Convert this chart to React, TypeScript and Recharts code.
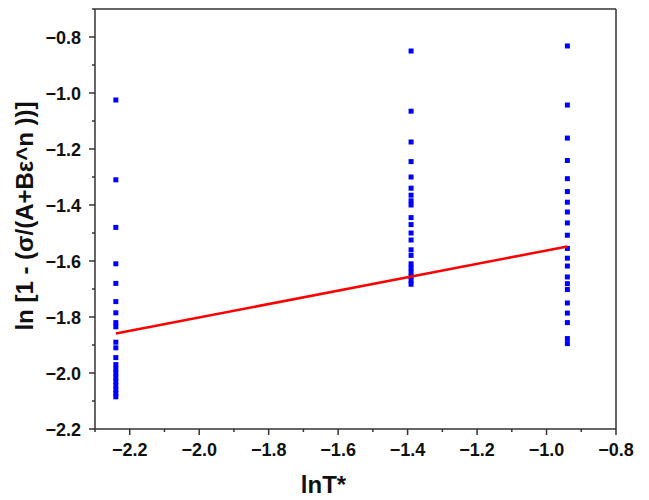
import React from 'react';
import { ScatterChart, Scatter, XAxis, YAxis, ReferenceLine } from 'recharts';

// x positions (lnT*) of the three measured columns
const columnX = [-2.24, -1.39, -0.94];

// y values for each column
const col1Y = [-1.025, -1.31, -1.48, -1.61, -1.68, -1.745, -1.785, -1.82, -1.835, -1.89, -1.91, -1.945, -1.97, -1.985, -2.0, -2.015, -2.03, -2.045, -2.06, -2.072, -2.085];
const col2Y = [-0.85, -1.065, -1.175, -1.245, -1.3, -1.34, -1.365, -1.385, -1.4, -1.445, -1.47, -1.5, -1.525, -1.56, -1.58, -1.61, -1.625, -1.64, -1.655, -1.67, -1.683];
const col3Y = [-0.832, -1.043, -1.161, -1.241, -1.306, -1.352, -1.39, -1.425, -1.464, -1.508, -1.555, -1.59, -1.618, -1.657, -1.681, -1.702, -1.75, -1.786, -1.82, -1.877, -1.895];

// linear fit endpoints
const fitX = [-2.24, -0.94];
const fitY = [-1.859, -1.548];

// axis ticks
const xTicks = [-2.3, -2.2, -2.1, -2.0, -1.9, -1.8, -1.7, -1.6, -1.5, -1.4, -1.3, -1.2, -1.1, -1.0, -0.9, -0.8];
const yTicks = [-2.2, -2.1, -2.0, -1.9, -1.8, -1.7, -1.6, -1.5, -1.4, -1.3, -1.2, -1.1, -1.0, -0.9, -0.8, -0.7];

const xTitle = 'lnT*';
const yTitle = 'ln [1 - (σ/(A+Bε^n ))]';

const points = [col1Y, col2Y, col3Y].flatMap((col, i) => col.map((y) => ({ x: columnX[i], y })));
const fitData = fitX.map((x, i) => ({ x, y: fitY[i] }));

const FONT = '"Liberation Sans", Arial, sans-serif';
const AXIS = '#333';

const isMajor = (v: number) => Math.abs(Math.round(v * 10)) % 2 === 0;
const fmt = (v: number) => v.toFixed(1).replace('-', '\u2212');

const XTick = (props: any) => {
  const { x, y, payload } = props;
  const v = payload.value as number;
  const major = isMajor(v);
  return (
    <g>
      <line x1={x} y1={y} x2={x} y2={y + (major ? 6 : 3)} stroke={AXIS} strokeWidth={1.5} />
      {major && (
        <text x={x} y={y + 27} textAnchor="middle" fontFamily={FONT} fontWeight="bold" fontSize={18} fill="#111">
          {fmt(v)}
        </text>
      )}
    </g>
  );
};

const YTick = (props: any) => {
  const { x, y, payload } = props;
  const v = payload.value as number;
  const major = isMajor(v);
  return (
    <g>
      <line x1={x} y1={y} x2={x - (major ? 6 : 3)} y2={y} stroke={AXIS} strokeWidth={1.5} />
      {major && (
        <text x={x - 14} y={y + 6.5} textAnchor="end" fontFamily={FONT} fontWeight="bold" fontSize={18} fill="#111">
          {fmt(v)}
        </text>
      )}
    </g>
  );
};

const XTitle = (props: any) => {
  const vb = props.viewBox;
  return (
    <text x={vb.x + vb.width / 2 - 32} y={vb.y + 64} textAnchor="middle" fontFamily={FONT} fontWeight="bold" fontSize={24} fill="#111">
      {xTitle}
    </text>
  );
};

const YTitle = (props: any) => {
  const vb = props.viewBox;
  const cx = 33;
  const cy = vb.y + vb.height / 2 - 3;
  return (
    <text x={cx} y={cy} transform={`rotate(-90 ${cx} ${cy})`} textAnchor="middle" fontFamily={FONT} fontWeight="bold" fontSize={24} fill="#111">
      {yTitle}
    </text>
  );
};

const Square = (props: any) => {
  const { cx, cy } = props;
  if (cx == null || cy == null) return null;
  return <rect x={cx - 2.5} y={cy - 2.5} width={5} height={5} fill="#0000FF" />;
};

export default function App() {
  return (
    <div style={{ position: 'absolute', left: 0, top: 0, background: '#fff' }}>
      <ScatterChart width={649} height={500} margin={{ top: 9, right: 33, bottom: 0, left: 0 }}>
        <XAxis
          type="number"
          dataKey="x"
          domain={[-2.3, -0.8]}
          ticks={xTicks}
          interval={0}
          allowDataOverflow
          height={71}
          tickSize={0}
          tickMargin={0}
          tickLine={false}
          axisLine={{ stroke: AXIS, strokeWidth: 1.5 }}
          tick={<XTick />}
          label={<XTitle />}
        />
        <YAxis
          type="number"
          dataKey="y"
          domain={[-2.2, -0.7]}
          ticks={yTicks}
          interval={0}
          allowDataOverflow
          width={95}
          tickSize={0}
          tickMargin={0}
          tickLine={false}
          axisLine={{ stroke: AXIS, strokeWidth: 1.5 }}
          tick={<YTick />}
          label={<YTitle />}
        />
        <ReferenceLine y={-0.7} stroke={AXIS} strokeWidth={1.5} />
        <ReferenceLine x={-0.8} stroke={AXIS} strokeWidth={1.5} />
        <Scatter data={points} shape={<Square />} isAnimationActive={false} />
        <Scatter data={fitData} line={{ stroke: '#FF0000', strokeWidth: 2.5 }} shape={() => null} isAnimationActive={false} />
      </ScatterChart>
    </div>
  );
}
